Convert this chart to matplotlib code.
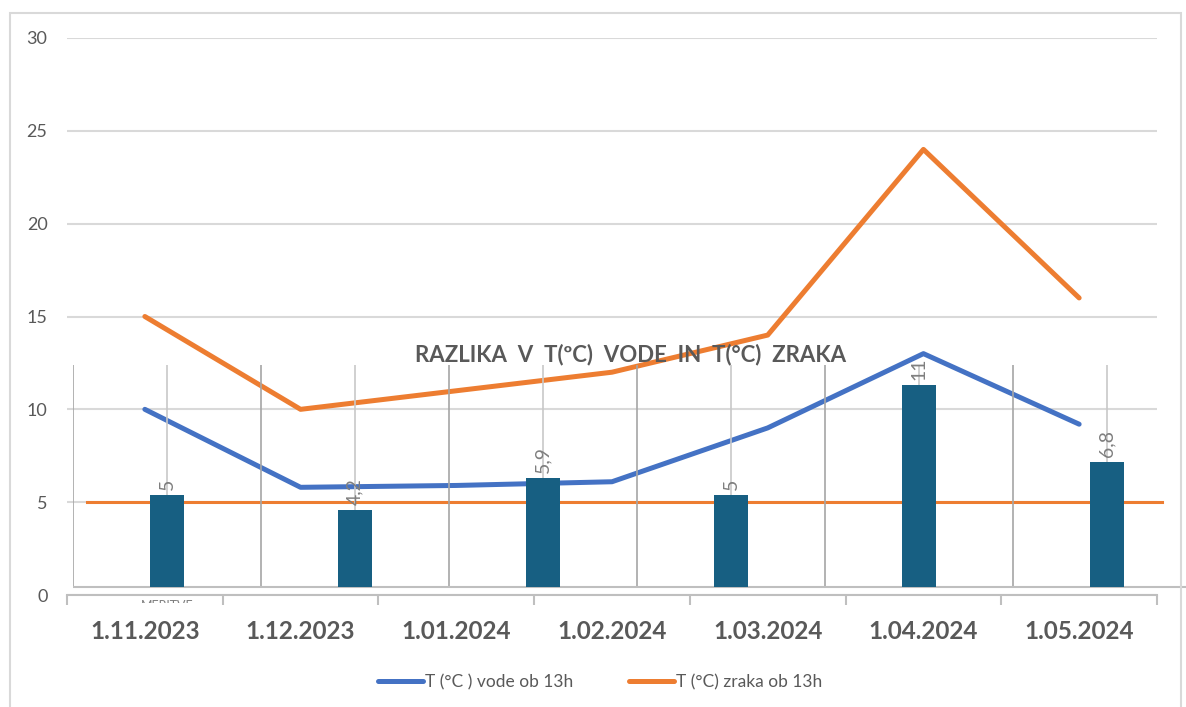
import numpy as np
import matplotlib.pyplot as plt
from matplotlib.patches import Rectangle

# %% podatki

datumi = ['1.11.2023', '1.12.2023', '1.01.2024', '1.02.2024',
          '1.03.2024', '1.04.2024', '1.05.2024']
t_voda = [10, 5.8, 5.9, 6.1, 9.0, 13.0, 9.2]
t_zrak = [15, 10, 11, 12, 14, 24, 16]
meja = 5

razlika = [5, 4.2, 5.9, 5, 11, 6.8]
razlika_txt = ['5', '4,2', '5,9', '5', '11', '6,8']

# %% graf

plt.rcParams['font.family'] = ['Lato', 'DejaVu Sans']

W, H = 1186, 707
fig = plt.figure(figsize=(W / 100, H / 100), dpi=100)

modra = '#4472C4'
oranzna = '#ED7D31'
siva = '#595959'
mreza = '#D9D9D9'

# okvir
fig.patches.append(Rectangle((10 / W, -0.01), 1171 / W, 1 - 13 / H + 0.01,
                             transform=fig.transFigure, fill=False,
                             edgecolor=mreza, lw=1.5))

ax = fig.add_axes([67 / W, 1 - 595 / H, 1090 / W, 557 / H])
x = np.arange(len(datumi))
ax.plot(x, t_voda, color=modra, lw=3.6, solid_capstyle='round',
        label='T (°C ) vode ob 13h', zorder=3)
ax.plot(x, t_zrak, color=oranzna, lw=3.6, solid_capstyle='round',
        label='T (°C) zraka ob 13h', zorder=3)
ax.set_xlim(-0.5, len(datumi) - 0.5)
ax.set_ylim(0, 30)
ax.set_yticks(range(0, 31, 5))
ax.yaxis.grid(True, color=mreza, lw=1.5)
ax.set_axisbelow(True)
for s in ['top', 'right', 'left']:
    ax.spines[s].set_visible(False)
ax.spines['bottom'].set_color('#BFBFBF')
ax.spines['bottom'].set_linewidth(1.5)
ax.tick_params(axis='y', length=0, pad=14, labelsize=13, labelcolor=siva)
ax.set_xticks(x)
ax.set_xticklabels(datumi, fontsize=17.5, fontweight='bold', color=siva)
ax.tick_params(axis='x', length=0, pad=18)
ax.set_xticks(np.arange(-0.5, len(datumi)), minor=True)
ax.tick_params(axis='x', which='minor', length=7, width=1.5, color='#BFBFBF')

# vodoravna črta pri 5
ax.plot([-0.37, 6.53], [meja, meja], color=oranzna, lw=2.2, zorder=5,
        clip_on=False)

# %% vstavljen graf razlike

ax2 = fig.add_axes([73 / W, 1 - 603 / H, 1113 / W, 238 / H])
ax2.patch.set_alpha(0)
xb = np.arange(len(razlika))
ax2.set_xlim(-0.5, (1186 - 167) / 188)
ax2.set_ylim(-0.87, 12.07)
ax2.vlines(xb - 0.5, 0, 12.07, color='#A6A6A6', lw=1.2, zorder=1)
ax2.vlines(xb, 0, 12.07, color='#C8C8C8', lw=1.2, zorder=1)
ax2.axhline(0, color='#BFBFBF', lw=1.5, zorder=2)
ax2.bar(xb, razlika, width=0.18, color='#175F82', zorder=3)
for xi, v, t in zip(xb, razlika, razlika_txt):
    ax2.text(xi, v + 0.28, t, rotation=90, ha='center', va='bottom',
             fontsize=14, color='#7F7F7F', zorder=4, clip_on=False)
ax2.text(0, -1.05, 'MERITVE', ha='center', va='center', fontsize=9,
         color='#7F7F7F', clip_on=True)
ax2.axis('off')

fig.text(631 / W, 1 - 355 / H, 'RAZLIKA  V  T(ºC)  VODE  IN  T(°C)  ZRAKA',
         ha='center', va='center', fontsize=16, fontweight='bold', color=siva)

fig.legend(loc='center', bbox_to_anchor=(600 / W, 1 - 682 / H), ncol=2,
           frameon=False, fontsize=12.5, labelcolor=siva, handlelength=2.6,
           handletextpad=0.1, columnspacing=3.2)

fig.savefig('out.png', dpi=100)
